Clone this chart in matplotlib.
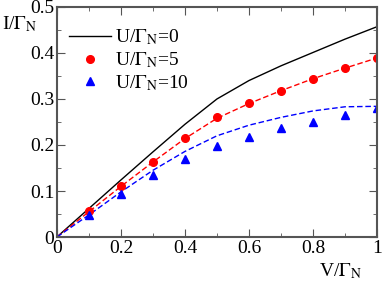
import matplotlib
matplotlib.use("Agg")
import matplotlib.pyplot as plt
from matplotlib.ticker import MultipleLocator

plt.rcParams['font.family'] = ['Liberation Serif', 'DejaVu Serif']
plt.rcParams['mathtext.fontset'] = 'stix'

# curves
v_line = [0.0, 0.1, 0.2, 0.3, 0.4, 0.5, 0.6, 0.7, 0.8, 0.9, 1.0]
i_u0 = [0.0, 0.062, 0.124, 0.185, 0.245, 0.300, 0.340, 0.372, 0.401, 0.430, 0.457]
i_u5_fit = [0.0, 0.055, 0.110, 0.163, 0.214, 0.258, 0.290, 0.318, 0.344, 0.367, 0.389]
i_u10_fit = [0.0, 0.048, 0.098, 0.145, 0.186, 0.220, 0.243, 0.260, 0.274, 0.283, 0.284]

# points
v_pts = [0.1, 0.2, 0.3, 0.4, 0.5, 0.6, 0.7, 0.8, 0.9, 1.0]
i_u5 = [0.056, 0.111, 0.164, 0.216, 0.260, 0.291, 0.318, 0.343, 0.367, 0.389]
i_u10 = [0.048, 0.093, 0.135, 0.170, 0.198, 0.218, 0.236, 0.250, 0.265, 0.280]

x_ticks = [0, 0.2, 0.4, 0.6, 0.8, 1.0]
x_labels = ['0', '0.2', '0.4', '0.6', '0.8', '1']
y_ticks = [0, 0.1, 0.2, 0.3, 0.4, 0.5]
y_labels = ['0', '0.1', '0.2', '0.3', '0.4', '0.5']

fig = plt.figure(figsize=(3.82, 2.88), dpi=100)
ax = fig.add_axes([0.149, 0.177, 0.838, 0.799])

ax.plot(v_line, i_u0, color='black', lw=1.0, label=r'U/$\Gamma_{\rm N}$=0')
ax.plot(v_line, i_u5_fit, color='red', lw=1.0, ls=(0, (4, 2)))
ax.plot(v_line, i_u10_fit, color='blue', lw=1.0, ls=(0, (4, 2)))
ax.plot(v_pts, i_u5, 'o', color='red', ms=5.5, ls='none', label=r'U/$\Gamma_{\rm N}$=5')
ax.plot(v_pts, i_u10, '^', color='blue', ms=5.5, ls='none', label=r'U/$\Gamma_{\rm N}$=10')

ax.set_xlim(0, 1)
ax.set_ylim(0, 0.5)
ax.set_xticks(x_ticks)
ax.set_xticklabels(x_labels)
ax.set_yticks(y_ticks)
ax.set_yticklabels(y_labels)
ax.xaxis.set_minor_locator(MultipleLocator(0.1))
ax.yaxis.set_minor_locator(MultipleLocator(0.05))
ax.tick_params(which='both', direction='in', top=True, right=True, labelsize=14, pad=2, color='#555555')
ax.tick_params(which='major', length=6)
ax.tick_params(which='minor', length=3)
for s in ax.spines.values():
    s.set_linewidth(1.5)
    s.set_color('#555555')

ax.legend(loc='upper left', frameon=False, fontsize=14, handlelength=2.2,
          handletextpad=0.2, labelspacing=0.15, borderaxespad=0.2,
          bbox_to_anchor=(0.0, 0.96))

fig.text(0.005, 0.90, r'I/$\Gamma_{\rm N}$', fontsize=14)
fig.text(0.835, 0.04, r'V/$\Gamma_{\rm N}$', fontsize=14)

fig.savefig('out.png', dpi=100)
